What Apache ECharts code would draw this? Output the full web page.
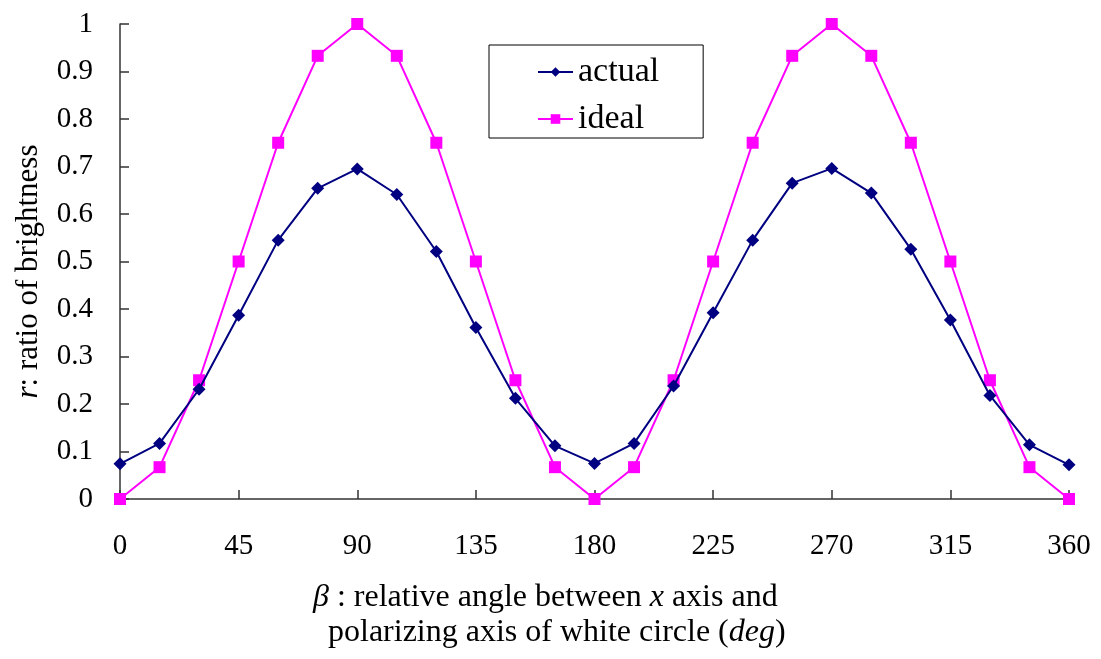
<!DOCTYPE html>
<html>
<head>
<meta charset="utf-8">
<script src="https://cdn.jsdelivr.net/npm/echarts@6/dist/echarts.min.js"></script>
<style>
html,body{margin:0;padding:0;background:#fff;}
#chart{width:1101px;height:659px;}
</style>
</head>
<body>
<div id="chart"></div>
<script>
var angles = [0,15,30,45,60,75,90,105,120,135,150,165,180,195,210,225,240,255,270,285,300,315,330,345,360];
var actual = [0.074,0.117,0.231,0.387,0.545,0.654,0.695,0.641,0.521,0.361,0.212,0.112,0.075,0.117,0.238,0.392,0.545,0.665,0.696,0.644,0.526,0.377,0.218,0.114,0.072];
var ideal = [0,0.067,0.25,0.5,0.75,0.933,1,0.933,0.75,0.5,0.25,0.067,0,0.067,0.25,0.5,0.75,0.933,1,0.933,0.75,0.5,0.25,0.067,0];
var xTicks = [0,45,90,135,180,225,270,315,360];
var yTicks = [0,0.1,0.2,0.3,0.4,0.5,0.6,0.7,0.8,0.9,1];

var FONT = '"Liberation Serif","Times New Roman",serif';
function pairs(v){ return angles.map(function(a,i){ return [a, v[i]]; }); }

var chart = echarts.init(document.getElementById('chart'));
chart.setOption({
  backgroundColor: '#fff',
  animation: false,
  textStyle: {fontFamily: FONT, color: '#000'},
  grid: {left: 120, right: 32, top: 24, bottom: 160},
  title: [
    {
      left: 313, top: 582, padding: 0,
      text: '{i|\u03B2} : relative angle between {i|x} axis and',
      textStyle: {fontFamily: FONT, fontSize: 32, fontWeight: 'normal', color: '#000',
        rich: {i: {fontFamily: FONT, fontSize: 32, fontStyle: 'italic', color: '#000'}}}
    },
    {
      left: 328, top: 617, padding: 0,
      text: 'polarizing axis of white circle ({i|deg})',
      textStyle: {fontFamily: FONT, fontSize: 32, fontWeight: 'normal', color: '#000',
        rich: {i: {fontFamily: FONT, fontSize: 32, fontStyle: 'italic', color: '#000'}}}
    }
  ],
  legend: {
    orient: 'vertical',
    left: 489, top: 45,
    padding: [10, 44, 2, 48],
    borderColor: '#000', borderWidth: 1,
    itemWidth: 35, itemHeight: 12, itemGap: 13,
    textStyle: {fontFamily: FONT, fontSize: 34, color: '#000'},
    data: ['actual', 'ideal']
  },
  xAxis: {
    type: 'value', min: 0, max: 360, interval: 45,
    axisLine: {show: true, onZero: false, lineStyle: {color: '#333', width: 1.5}},
    axisTick: {show: true, inside: true, length: 9, lineStyle: {color: '#333', width: 1.5}},
    splitLine: {show: false},
    axisLabel: {fontFamily: FONT, fontSize: 29, color: '#000', margin: 33,
      formatter: function(v){ return xTicks.indexOf(v) >= 0 ? String(v) : ''; }}
  },
  yAxis: {
    type: 'value', min: 0, max: 1, interval: 0.1,
    name: '{i|r}: ratio of brightness',
    nameLocation: 'middle', nameGap: 76, nameRotate: 90,
    nameTextStyle: {fontFamily: FONT, fontSize: 31, color: '#000', padding: [0, 20, 0, 0],
      rich: {i: {fontFamily: FONT, fontSize: 31, fontStyle: 'italic', color: '#000'}}},
    axisLine: {show: true, lineStyle: {color: '#333', width: 1.5}},
    axisTick: {show: true, inside: true, length: 9, lineStyle: {color: '#333', width: 1.5}},
    splitLine: {show: false},
    axisLabel: {fontFamily: FONT, fontSize: 29, color: '#000', margin: 27,
      formatter: function(v){
        var r = Math.round(v * 10) / 10;
        return yTicks.indexOf(r) >= 0 ? String(r) : '';
      }}
  },
  series: [
    {
      name: 'actual', type: 'line', data: pairs(actual),
      symbol: 'diamond', symbolSize: 13,
      itemStyle: {color: '#000080'},
      lineStyle: {color: '#000080', width: 2},
      z: 3
    },
    {
      name: 'ideal', type: 'line', data: pairs(ideal),
      symbol: 'rect', symbolSize: 12,
      itemStyle: {color: '#FF00FF'},
      lineStyle: {color: '#FF00FF', width: 2},
      z: 2
    }
  ]
});
</script>
</body>
</html>
